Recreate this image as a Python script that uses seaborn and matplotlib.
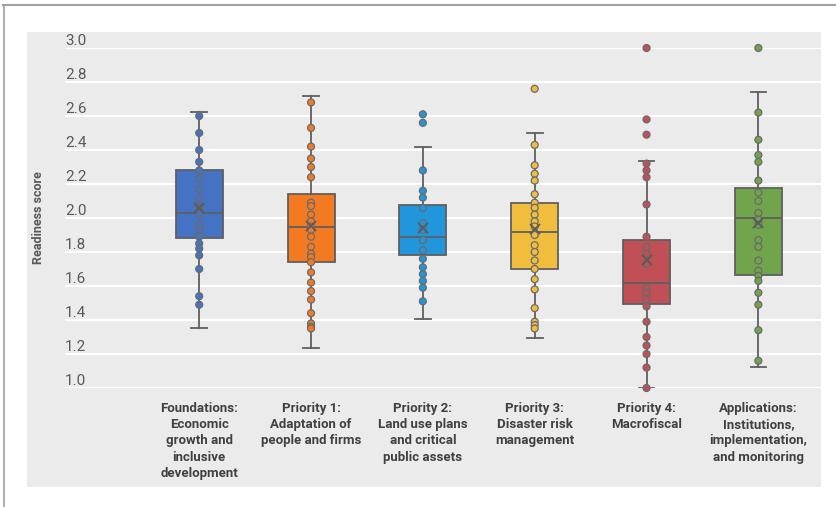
import numpy as np
import pandas as pd
import matplotlib
matplotlib.use("Agg")
import matplotlib.pyplot as plt
import seaborn as sns
from matplotlib.patches import Rectangle
from matplotlib.lines import Line2D

# categories and colours
categories = ["Foundations:\nEconomic\ngrowth and\ninclusive\ndevelopment",
              "Priority 1:\nAdaptation of\npeople and firms",
              "Priority 2:\nLand use plans\nand critical\npublic assets",
              "Priority 3:\nDisaster risk\nmanagement",
              "Priority 4:\nMacrofiscal",
              "Applications:\nInstitutions,\nimplementation,\nand monitoring"]
colors = ["#4472C4", "#F47A22", "#2196DC", "#F0BE3C", "#C05055", "#70A54B"]

# points
foundations = [2.60, 2.50, 2.40, 2.33, 2.28, 2.23, 2.17, 2.11, 2.07, 2.06, 2.02,
               1.96, 1.93, 1.89, 1.85, 1.82, 1.78, 1.70, 1.54, 1.49]
priority1 = [2.68, 2.53, 2.42, 2.35, 2.30, 2.24, 2.09, 2.07, 2.02, 1.98, 1.95,
             1.93, 1.89, 1.83, 1.79, 1.77, 1.74, 1.68, 1.62, 1.57, 1.52, 1.44,
             1.38, 1.36, 1.35]
priority2 = [2.61, 2.56, 2.28, 2.16, 2.12, 2.06, 1.97, 1.93, 1.87, 1.81, 1.76,
             1.71, 1.67, 1.63, 1.59, 1.51]
priority3 = [2.76, 2.43, 2.31, 2.26, 2.22, 2.14, 2.09, 2.06, 2.02, 1.98, 1.95,
             1.90, 1.84, 1.80, 1.75, 1.70, 1.64, 1.58, 1.47, 1.39, 1.37, 1.35]
priority4 = [3.00, 2.58, 2.49, 2.32, 2.28, 2.24, 2.08, 1.89, 1.83, 1.79, 1.73,
             1.59, 1.56, 1.52, 1.48, 1.39, 1.30, 1.25, 1.20, 1.12, 1.00]
applications = [3.00, 2.62, 2.46, 2.37, 2.33, 2.22, 2.15, 2.10, 2.03, 1.99, 1.96,
                1.87, 1.83, 1.75, 1.69, 1.66, 1.63, 1.56, 1.49, 1.34, 1.16]

# box statistics
whisker_low = [1.355, 1.233, 1.404, 1.292, 1.000, 1.125]
q1 = [1.884, 1.739, 1.782, 1.702, 1.494, 1.665]
median = [2.031, 1.949, 1.890, 1.920, 1.616, 1.998]
q3 = [2.282, 2.141, 2.076, 2.090, 1.869, 2.178]
whisker_high = [2.625, 2.719, 2.420, 2.498, 2.333, 2.739]
means = [2.060, 1.955, 1.939, 1.935, 1.753, 1.969]

yticks = [1.0, 1.2, 1.4, 1.6, 1.8, 2.0, 2.2, 2.4, 2.6, 2.8, 3.0]

all_points = [foundations, priority1, priority2, priority3, priority4, applications]
df = pd.DataFrame({
    "category": [categories[i] for i, pts in enumerate(all_points) for _ in pts],
    "score": [v for pts in all_points for v in pts],
})

plt.rcParams["font.family"] = ["Roboto", "DejaVu Sans"]

fig = plt.figure(figsize=(8.36, 5.07), dpi=100)
W, H = 836, 507

# grey panel and frame lines
fig.patches.append(Rectangle((27 / W, 1 - 487 / H), (821 - 27) / W, (487 - 32) / H,
                             transform=fig.transFigure, facecolor="#ebebeb",
                             edgecolor="none", zorder=-5))
fig.lines.append(Line2D([3 / W, 1], [1 - 5 / H, 1 - 5 / H], transform=fig.transFigure,
                        color="#a0a0a0", lw=1.5, zorder=-5))
fig.lines.append(Line2D([4 / W, 4 / W], [0, 1 - 5 / H], transform=fig.transFigure,
                        color="#a0a0a0", lw=1.2, zorder=-5))

ax = fig.add_axes([65 / W, 1 - 388 / H, (821 - 65) / W, (388 - 48) / H])
ax.set_facecolor("none")
ax.set_zorder(1)

stats = []
for i in range(len(categories)):
    stats.append(dict(med=median[i], q1=q1[i], q3=q3[i], whislo=whisker_low[i],
                      whishi=whisker_high[i], mean=means[i], fliers=[]))

bp = ax.bxp(stats, positions=range(len(categories)), widths=0.42, patch_artist=True,
            showmeans=True, showfliers=False,
            boxprops=dict(edgecolor="#5f5f5f", linewidth=1.3),
            medianprops=dict(color="#5f5f5f", linewidth=1.3),
            whiskerprops=dict(color="#5f5f5f", linewidth=1.3),
            capprops=dict(color="#5f5f5f", linewidth=1.3),
            capwidths=0.14,
            meanprops=dict(marker="x", markeredgecolor="#5a5a5a", markersize=7,
                           markeredgewidth=1.3))
for patch, c in zip(bp["boxes"], colors):
    patch.set_facecolor(c)
    patch.set_zorder(2)
for k in ["whiskers", "caps", "medians"]:
    for ln in bp[k]:
        ln.set_zorder(2)
for ln in bp["means"]:
    ln.set_zorder(4)

sns.stripplot(data=df, x="category", y="score", hue="category", order=categories,
              palette=colors, jitter=False, size=5, linewidth=0.9,
              edgecolor="#6a6a6a", legend=False, ax=ax, zorder=3, clip_on=False)

ax.set_xlim(-1.2, 5.56)
ax.set_ylim(1.0, 3.0)
ax.set_yticks(yticks)
ax.set_yticklabels([f"{v:.1f}" for v in yticks])
ax.set_xticks(range(len(categories)))
ax.set_xticklabels(categories)
ax.grid(axis="y", color="white", linewidth=1.5, zorder=0)
ax.grid(axis="x", visible=False)
ax.set_axisbelow(True)
for s in ax.spines.values():
    s.set_visible(False)

ax.tick_params(axis="y", length=0, pad=0, labelsize=11, labelcolor="#595959")
ax.tick_params(axis="x", length=0, pad=10, labelsize=9.5, labelcolor="#404040")
plt.setp(ax.get_yticklabels(), ha="left", va="bottom")
plt.setp(ax.get_xticklabels(), fontweight="bold", linespacing=1.33, ha="center")
ax.set_xlabel("")
ax.set_ylabel("")
fig.text(38 / W, 1 - 218 / H, "Readiness score", rotation=90, ha="center",
         va="center", fontsize=9, fontweight="bold", color="#595959")

fig.savefig("out.png", dpi=100)
